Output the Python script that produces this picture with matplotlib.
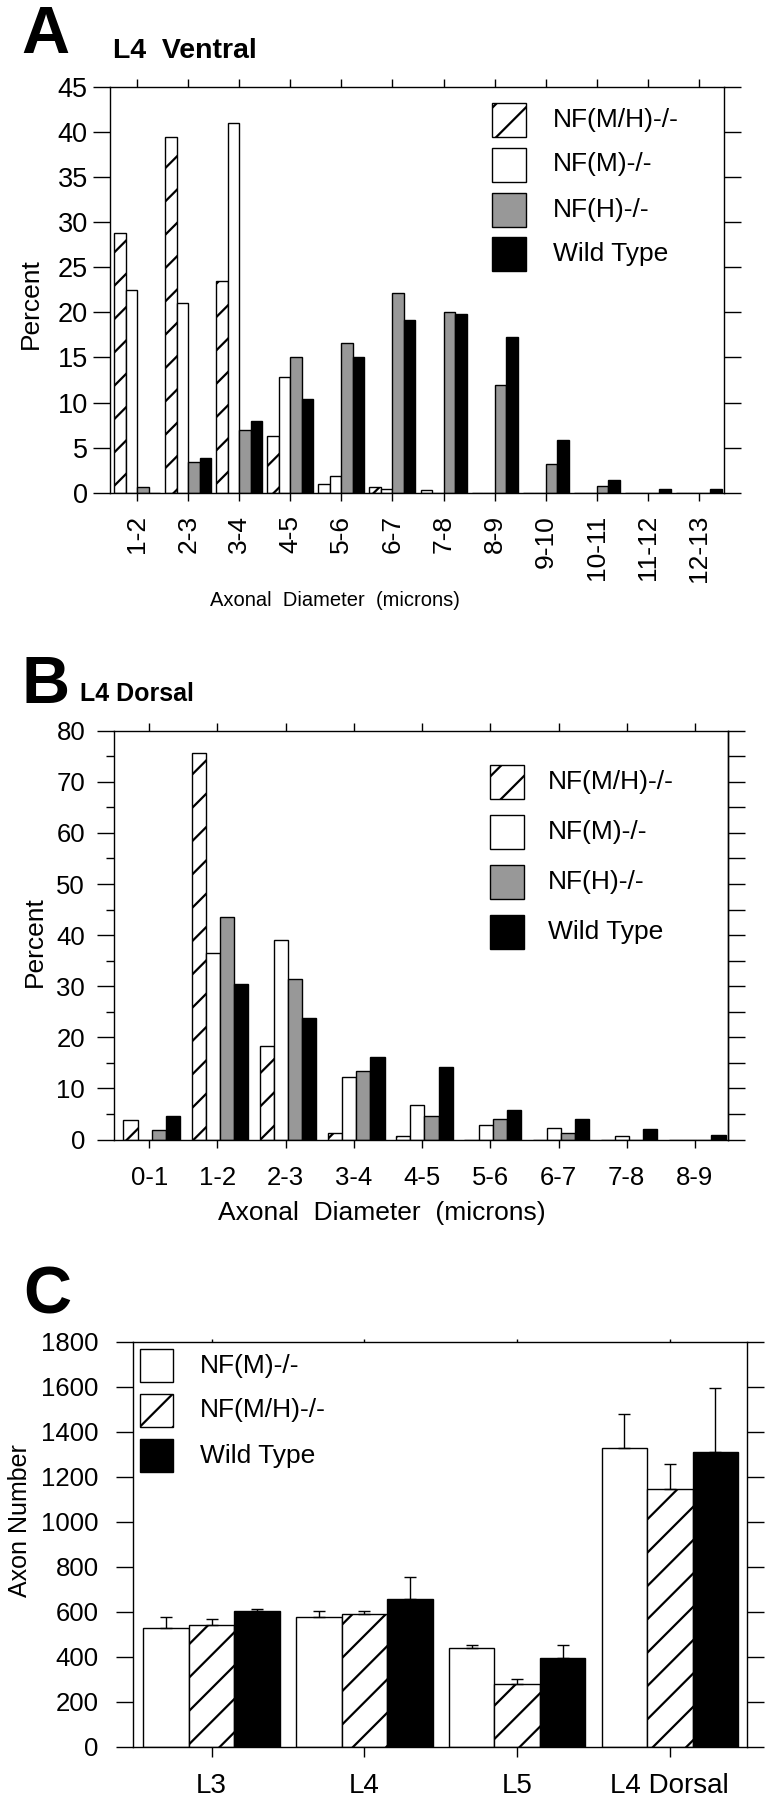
import numpy as np
import matplotlib
matplotlib.use("Agg")
import matplotlib.pyplot as plt
from matplotlib.patches import Rectangle

plt.rcParams['font.family'] = ['Liberation Sans', 'DejaVu Sans']
plt.rcParams['hatch.linewidth'] = 1.6
plt.rcParams['axes.linewidth'] = 1.0

W, H = 768, 1800

# ---------------- data ----------------
name_mh, name_m, name_h, name_wt = 'NF(M/H)-/-', 'NF(M)-/-', 'NF(H)-/-', 'Wild Type'

cats_a = ['1-2', '2-3', '3-4', '4-5', '5-6', '6-7', '7-8', '8-9', '9-10', '10-11', '11-12', '12-13']
a_mh = [28.8, 39.5, 23.5, 6.3, 0.97, 0.63, 0.35, 0, 0, 0, 0, 0]
a_m = [22.5, 21.0, 41.0, 12.85, 1.9, 0.37, 0, 0, 0, 0, 0, 0]
a_h = [0.63, 3.45, 6.9, 15.0, 16.6, 22.2, 20.05, 12.0, 3.2, 0.75, 0, 0]
a_wt = [0, 3.8, 7.9, 10.4, 15.1, 19.2, 19.8, 17.3, 5.8, 1.4, 0.45, 0.45]
yticks_a = [0, 5, 10, 15, 20, 25, 30, 35, 40, 45]

cats_b = ['0-1', '1-2', '2-3', '3-4', '4-5', '5-6', '6-7', '7-8', '8-9']
b_mh = [3.9, 75.6, 18.3, 1.2, 0.6, 0, 0, 0, 0]
b_m = [0, 36.4, 39.0, 12.3, 6.75, 2.84, 2.3, 0.7, 0]
b_h = [1.86, 43.6, 31.4, 13.5, 4.6, 4.0, 1.2, 0, 0]
b_wt = [4.6, 30.4, 23.8, 16.2, 14.1, 5.8, 4.1, 2.0, 0.9]
yticks_b = [0, 10, 20, 30, 40, 50, 60, 70, 80]

cats_c = ['L3', 'L4', 'L5', 'L4 Dorsal']
c_m = [529, 576, 440, 1329]
c_m_err = [46, 27, 12, 151]
c_mh = [541, 591, 279, 1145]
c_mh_err = [25, 13, 23, 110]
c_wt = [604, 656, 393, 1311]
c_wt_err = [9, 97, 59, 282]
yticks_c = [0, 200, 400, 600, 800, 1000, 1200, 1400, 1600, 1800]

# ---------------- styles ----------------
STY = {
    name_mh: dict(facecolor='white', edgecolor='black', hatch='/'),
    name_m: dict(facecolor='white', edgecolor='black'),
    name_h: dict(facecolor='#989898', edgecolor='black'),
    name_wt: dict(facecolor='black', edgecolor='black'),
}

fig = plt.figure(figsize=(W / 100, H / 100), dpi=100)


def add_axes(b):
    l, t, r, bt = b
    return fig.add_axes([l / W, 1 - bt / H, (r - l) / W, (bt - t) / H])


def axc(b, x, y):
    l, t, r, bt = b
    return (x - l) / (r - l), (bt - y) / (bt - t)


def fig_text(x, y, s, **kw):
    fig.text(x / W, 1 - y / H, s, **kw)


def legend(items, x0, centers, size, text_x, fs):
    for name, cy in zip(items, centers):
        r = Rectangle((x0 / W, 1 - (cy + size / 2) / H), size / W, size / H,
                      transform=fig.transFigure, linewidth=1.0, **STY[name])
        fig.add_artist(r)
        fig_text(text_x, cy, name, ha='left', va='center', fontsize=fs)


def style_axis(ax):
    for s in ax.spines.values():
        s.set_linewidth(1.0)


# ================= Panel A =================
bA = (110, 87, 724, 492.7)
axA = add_axes(bA)
xa = np.arange(len(cats_a))
wA = 0.225
for k, (name, vals) in enumerate([(name_mh, a_mh), (name_m, a_m), (name_h, a_h), (name_wt, a_wt)]):
    axA.bar(xa + (k - 1.5) * wA, vals, width=wA, linewidth=1.0, **STY[name])
axA.set_xlim(-0.53, 11.49)
axA.set_ylim(0, 45)
axA.set_yticks(yticks_a)
axA.set_yticklabels([str(v) for v in yticks_a], fontsize=19.5)
axA.set_xticks(xa)
axA.set_xticklabels(cats_a, rotation=90, fontsize=19)
axA.tick_params(axis='y', left=True, right=True, direction='out', length=12, width=1.0, pad=4)
axA.tick_params(axis='x', bottom=True, top=True, direction='out', length=6, width=1.0, pad=10)
axA.set_ylabel('Percent', fontsize=19, rotation=90, rotation_mode='anchor', ha='center', va='baseline')
axA.yaxis.set_label_coords(*axc(bA, 38, 303.5))
axA.set_xlabel('Axonal  Diameter  (microns)', fontsize=14.5, ha='center', va='baseline')
axA.xaxis.set_label_coords(*axc(bA, 335, 606))
style_axis(axA)
legend([name_mh, name_m, name_h, name_wt], 491.7, [120, 164.5, 209.5, 254], 34, 553, 19)
fig_text(21, 53, 'A', fontsize=48, fontweight='bold', ha='left', va='baseline')
fig_text(113, 58, 'L4  Ventral', fontsize=20.5, fontweight='bold', ha='left', va='baseline')

# ================= Panel B =================
bB = (114.3, 730.7, 728, 1139.5)
axB = add_axes(bB)
xb = np.arange(len(cats_b))
wB = 0.2075
for k, (name, vals) in enumerate([(name_mh, b_mh), (name_m, b_m), (name_h, b_h), (name_wt, b_wt)]):
    axB.bar(xb + 0.035 + (k - 1.5) * wB, vals, width=wB, linewidth=1.0, **STY[name])
axB.set_xlim(-0.513, 8.485)
axB.set_ylim(0, 80)
axB.set_yticks(yticks_b)
axB.set_yticklabels([str(v) for v in yticks_b], fontsize=18.5)
axB.set_yticks(np.arange(5, 80, 10), minor=True)
axB.set_xticks(xb)
axB.set_xticklabels(cats_b, fontsize=18.5)
axB.tick_params(axis='y', which='major', left=True, right=False, direction='out', length=12, width=1.0, pad=9)
axB.tick_params(axis='y', which='minor', left=True, right=False, direction='out', length=6, width=1.0)
axB.tick_params(axis='x', bottom=True, top=True, direction='out', length=6, width=1.0, pad=13)
secB = axB.secondary_yaxis('right')
secB.set_yticks(np.arange(0, 81, 5))
secB.tick_params(axis='y', direction='out', length=12, width=1.0, labelright=False)
secB.spines['right'].set_linewidth(1.0)
axB.set_ylabel('Percent', fontsize=19, rotation=90, rotation_mode='anchor', ha='center', va='baseline')
axB.yaxis.set_label_coords(*axc(bB, 42, 942))
axB.set_xlabel('Axonal  Diameter  (microns)', fontsize=19, ha='center', va='baseline')
axB.xaxis.set_label_coords(*axc(bB, 382, 1220))
style_axis(axB)
legend([name_mh, name_m, name_h, name_wt], 490, [782, 832, 882, 932], 34, 548, 19)
fig_text(21, 703, 'B', fontsize=48, fontweight='bold', ha='left', va='baseline')
fig_text(80, 701, 'L4 Dorsal', fontsize=18, fontweight='bold', ha='left', va='baseline')

# ================= Panel C =================
bC = (133.3, 1341.7, 746.7, 1746.7)
axC = add_axes(bC)
xc = np.arange(len(cats_c))
wC = 0.298
for k, (name, vals, err) in enumerate([(name_m, c_m, c_m_err), (name_mh, c_mh, c_mh_err), (name_wt, c_wt, c_wt_err)]):
    pos = xc + (k - 1) * wC
    axC.bar(pos, vals, width=wC, linewidth=1.0, zorder=2, **STY[name])
    axC.errorbar(pos, vals, yerr=[np.zeros(len(err)), err], fmt='none', ecolor='black',
                 elinewidth=1.0, capsize=4.3, capthick=1.0, zorder=3)
axC.set_xlim(-0.513, 3.503)
axC.set_ylim(0, 1800)
axC.set_yticks(yticks_c)
axC.set_yticklabels([str(v) for v in yticks_c], fontsize=18.5)
axC.set_xticks(xc)
axC.set_xticklabels(cats_c, fontsize=20)
axC.tick_params(axis='y', left=True, right=True, direction='out', length=12, width=1.0, pad=13)
axC.tick_params(axis='x', bottom=True, top=True, direction='out', length=7, width=1.0, pad=12)
for t in axC.xaxis.get_major_ticks():
    t.tick2line.set_markersize(2)
axC.set_ylabel('Axon Number', fontsize=18, rotation=90, rotation_mode='anchor', ha='center', va='baseline')
axC.yaxis.set_label_coords(*axc(bC, 27, 1521))
style_axis(axC)
legend([name_m, name_mh, name_wt], 140, [1365.5, 1410.3, 1455.5], 33, 200, 19)
fig_text(23, 1313, 'C', fontsize=48, fontweight='bold', ha='left', va='baseline')

fig.savefig('out.png', dpi=100)
